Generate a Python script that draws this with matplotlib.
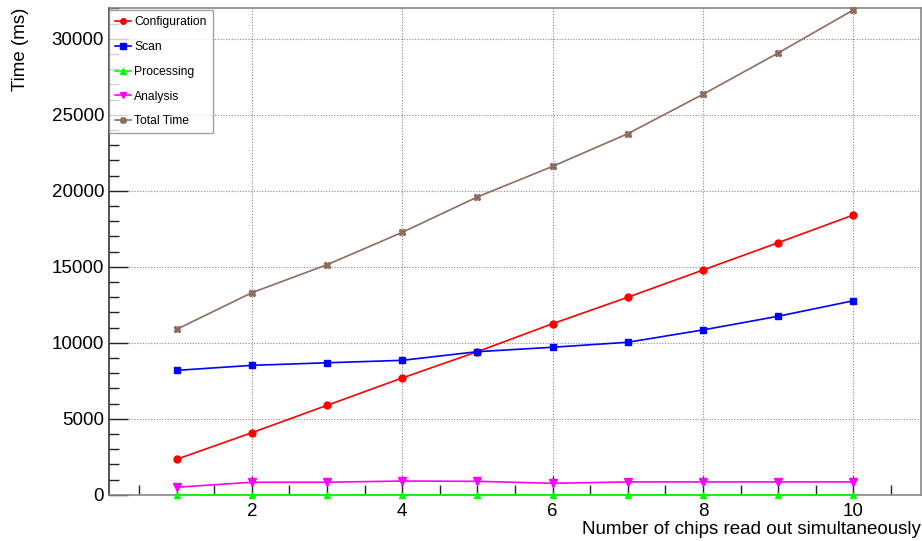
import matplotlib
matplotlib.use("Agg")
import matplotlib.pyplot as plt
from matplotlib.ticker import MultipleLocator

plt.rcParams['font.family'] = ['Liberation Sans', 'DejaVu Sans']

chips = [1, 2, 3, 4, 5, 6, 7, 8, 9, 10]
configuration = [2330, 4080, 5880, 7680, 9410, 11250, 12990, 14780, 16580, 18400]
scan = [8180, 8510, 8680, 8840, 9410, 9700, 10030, 10840, 11740, 12760]
processing = [10, 10, 10, 10, 10, 10, 10, 10, 10, 10]
analysis = [490, 820, 820, 900, 880, 750, 840, 840, 840, 840]
total = [10880, 13290, 15130, 17260, 19590, 21600, 23750, 26340, 29060, 31890]

W, H = 922, 541
fig = plt.figure(figsize=(W / 100, H / 100), dpi=100)
ax = fig.add_axes([109 / W, (H - 494.7) / H, (921 - 109) / W, (494.7 - 8) / H])

series = [
    ("Configuration", configuration, "#ff0000", "o", 5),
    ("Scan", scan, "#0000ff", "s", 5),
    ("Processing", processing, "#00ff00", "^", 5),
    ("Analysis", analysis, "#ff00ff", "v", 5.5),
    ("Total Time", total, "#8c6d5e", "X", 5),
]
for name, vals, col, mk, ms in series:
    ax.plot(chips, vals, color=col, marker=mk, markersize=ms, linewidth=1.2,
            label=name, clip_on=False, zorder=3)

ax.set_xlim(0.1, 10.9)
ax.set_ylim(0, 32020)
ax.xaxis.set_major_locator(MultipleLocator(2))
ax.xaxis.set_minor_locator(MultipleLocator(0.5))
ax.yaxis.set_major_locator(MultipleLocator(5000))
ax.yaxis.set_minor_locator(MultipleLocator(1000))
ax.tick_params(which='both', direction='in', top=False, right=False, colors='#222222',
               labelcolor='black', labelsize=13.5, width=1)
ax.tick_params(which='major', length=14)
ax.tick_params(which='minor', length=7)
ax.tick_params(axis='x', pad=6)
ax.grid(True, which='major', linestyle=(0, (1, 1.5)), color='#888888', linewidth=0.8)

for s in ax.spines.values():
    s.set_color('#888888')
    s.set_linewidth(1.2)
ax.spines['left'].set_color('#333333')

ax.set_xlabel("Number of chips read out simultaneously", fontsize=13.5, loc='right', labelpad=1)
ax.set_ylabel("Time (ms)", fontsize=13.5, loc='top', labelpad=16)

leg = ax.legend(loc='upper left', bbox_to_anchor=(0.0, 0.995), fontsize=8.7, frameon=True,
                fancybox=False, edgecolor='#888888', handlelength=1.3, handletextpad=0.3,
                labelspacing=1.05, borderpad=0.5, borderaxespad=0.0, markerscale=0.8)
leg.get_frame().set_linewidth(1.0)

fig.savefig("out.png", dpi=100)
